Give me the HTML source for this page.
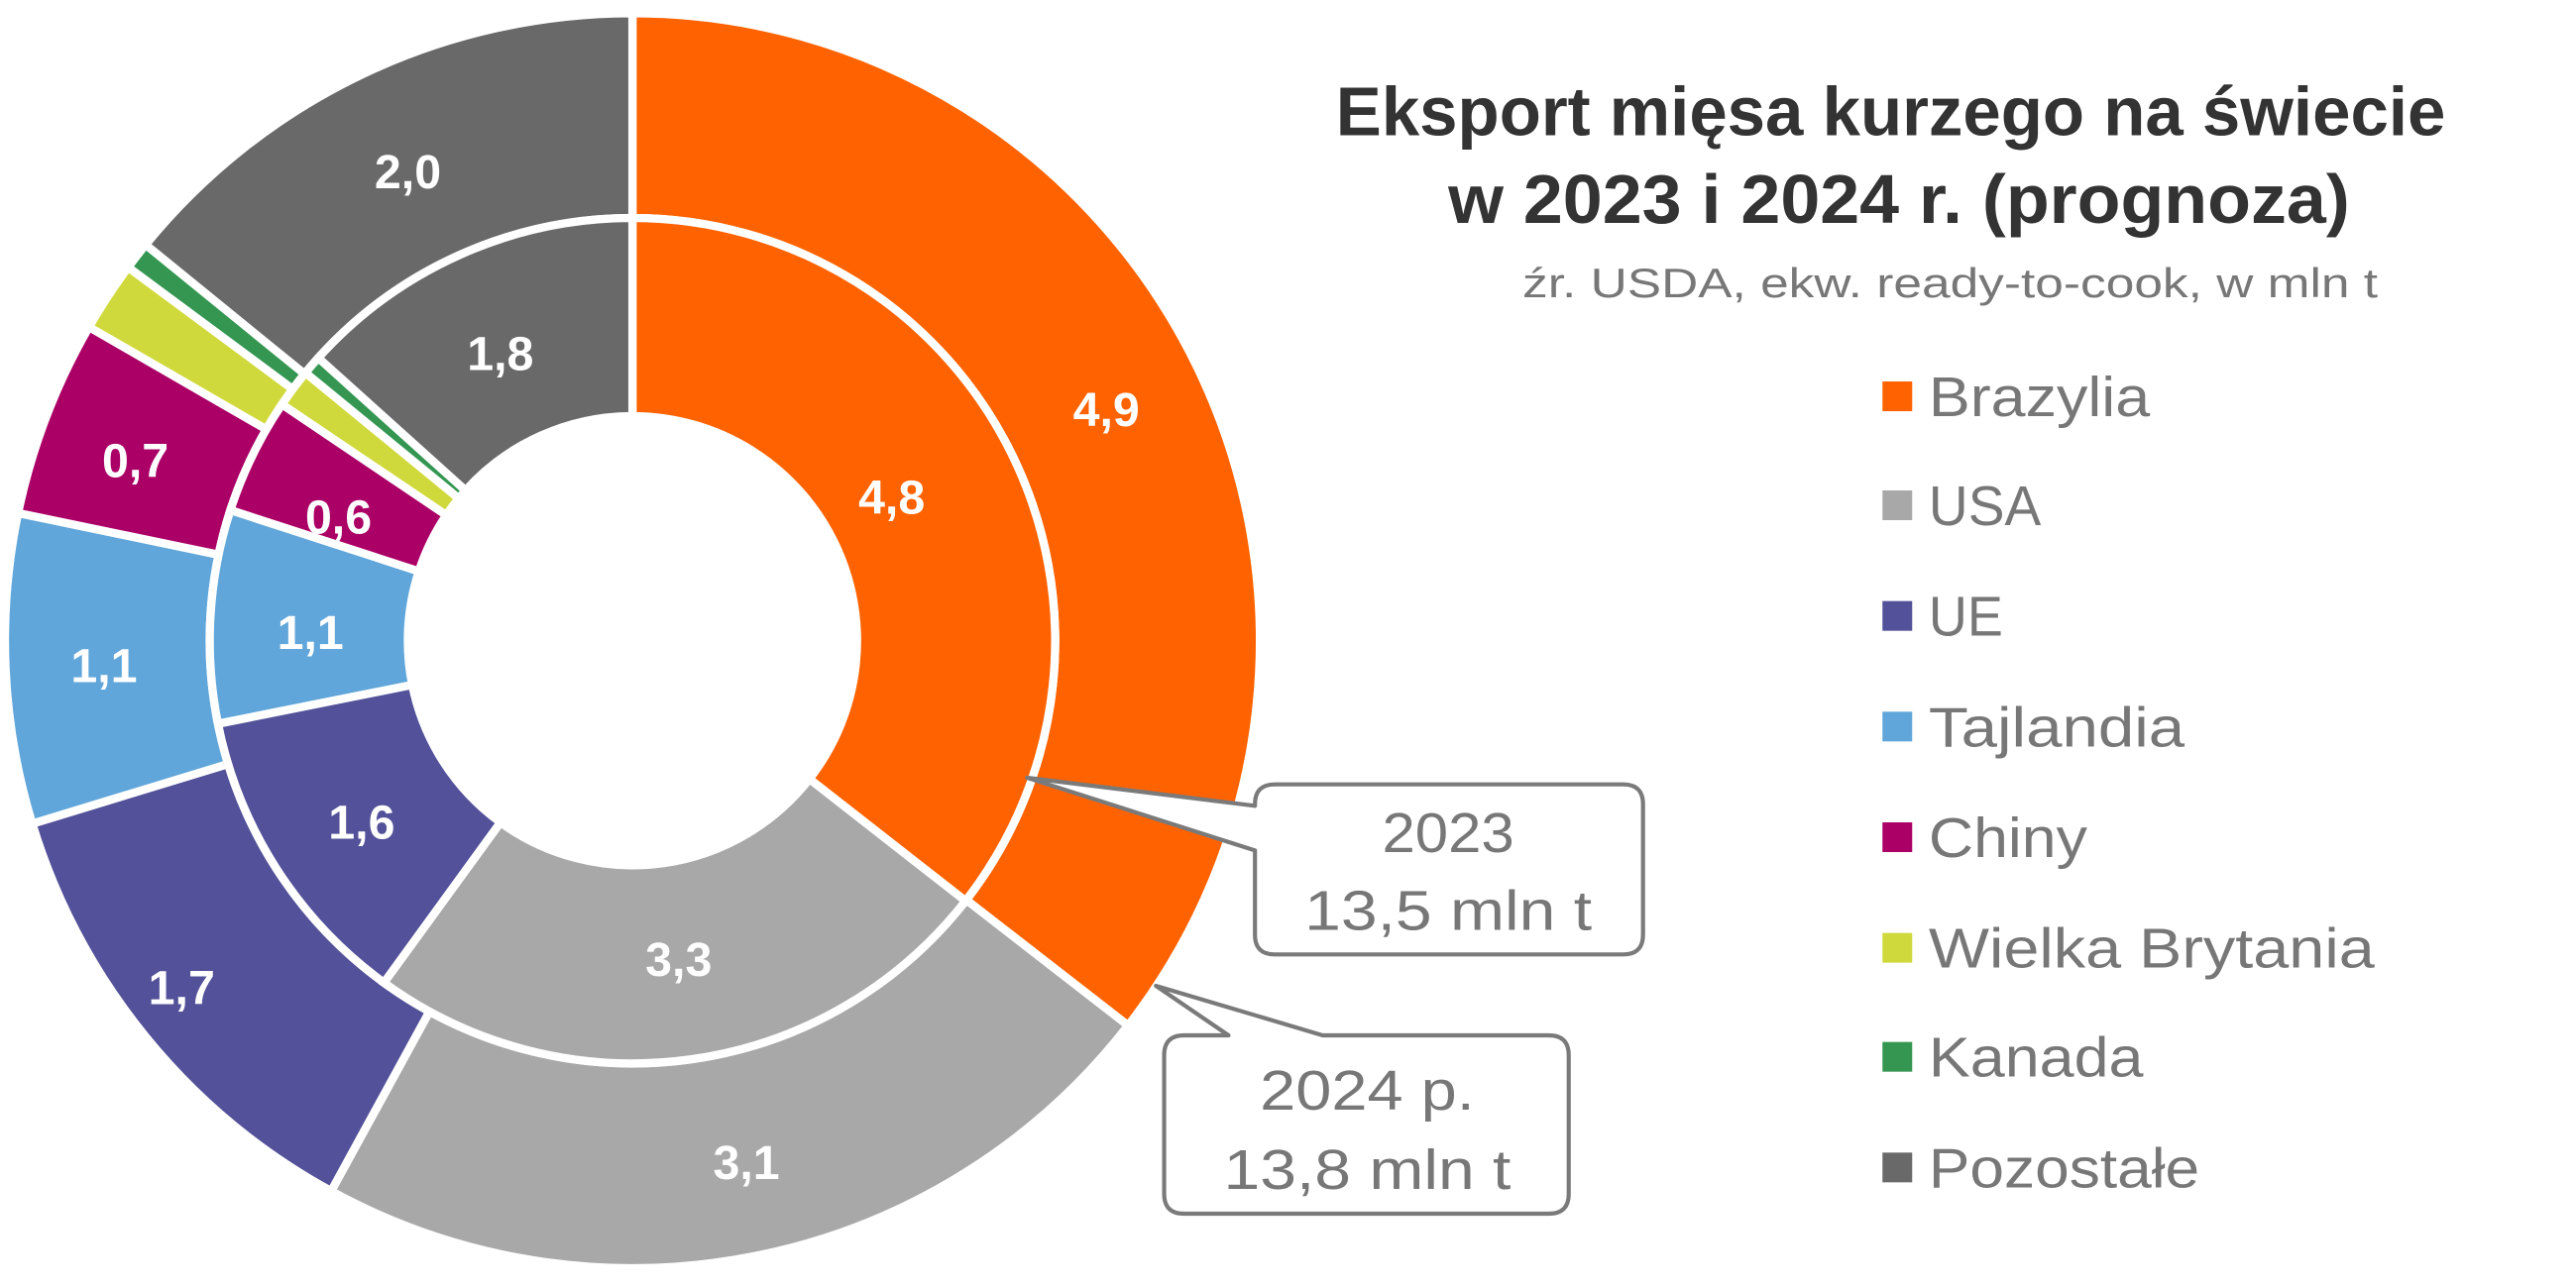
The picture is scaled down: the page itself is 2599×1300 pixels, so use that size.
<!DOCTYPE html>
<html><head><meta charset="utf-8"><style>
html,body{margin:0;padding:0;background:#fff;}
svg{display:block;}
text{font-family:"Liberation Sans",sans-serif;}
</style></head><body>
<svg id="s" width="2599" height="1300" viewBox="0 0 1560 780" preserveAspectRatio="none" xmlns="http://www.w3.org/2000/svg">
<g id="donut"></g>
<g font-weight="bold" fill="#fff" font-size="29" text-anchor="middle">
<text x="670" y="258">4,9</text>
<text x="540" y="311">4,8</text>
<text x="411" y="591">3,3</text>
<text x="452" y="714">3,1</text>
<text x="219" y="508">1,6</text>
<text x="110" y="608">1,7</text>
<text x="188" y="393">1,1</text>
<text x="63" y="413">1,1</text>
<text x="205" y="323">0,6</text>
<text x="82" y="289">0,7</text>
<text x="303" y="224">1,8</text>
<text x="247" y="114">2,0</text>
</g>
<g fill="#333" font-weight="bold" font-size="42" text-anchor="middle">
<text x="1145" y="82" textLength="672" lengthAdjust="spacingAndGlyphs">Eksport mięsa kurzego na świecie</text>
<text x="1150" y="135" textLength="546" lengthAdjust="spacingAndGlyphs">w 2023 i 2024 r. (prognoza)</text>
</g>
<text x="1181" y="180" fill="#777" font-size="25" text-anchor="middle" textLength="518" lengthAdjust="spacingAndGlyphs">źr. USDA, ekw. ready-to-cook, w mln t</text>
<g font-size="34" fill="#777">
<rect x="1140" y="231" width="18" height="18" fill="#FF6200"/><text x="1168" y="252" textLength="134" lengthAdjust="spacingAndGlyphs">Brazylia</text>
<rect x="1140" y="297" width="18" height="18" fill="#A8A8A8"/><text x="1168" y="318" textLength="68" lengthAdjust="spacingAndGlyphs">USA</text>
<rect x="1140" y="364" width="18" height="18" fill="#525199"/><text x="1168" y="385" textLength="45" lengthAdjust="spacingAndGlyphs">UE</text>
<rect x="1140" y="431" width="18" height="18" fill="#60A6DA"/><text x="1168" y="452" textLength="155" lengthAdjust="spacingAndGlyphs">Tajlandia</text>
<rect x="1140" y="498" width="18" height="18" fill="#AB0066"/><text x="1168" y="519" textLength="96" lengthAdjust="spacingAndGlyphs">Chiny</text>
<rect x="1140" y="565" width="18" height="18" fill="#D0D93C"/><text x="1168" y="586" textLength="270" lengthAdjust="spacingAndGlyphs">Wielka Brytania</text>
<rect x="1140" y="631" width="18" height="18" fill="#349651"/><text x="1168" y="652" textLength="130" lengthAdjust="spacingAndGlyphs">Kanada</text>
<rect x="1140" y="698" width="18" height="18" fill="#696969"/><text x="1168" y="719" textLength="164" lengthAdjust="spacingAndGlyphs">Pozostałe</text>
</g>
<g fill="#fff" stroke="#7a7a7a" stroke-width="2.5" stroke-linejoin="round">
<path d="M772,475 H983 Q995,475 995,487 V566 Q995,578 983,578 H772 Q760,578 760,566 V515 L622,471 L760,488 V487 Q760,475 772,475 Z"/>
<path d="M717,627 H744 L700,597 L801,627 H938 Q950,627 950,639 V723 Q950,735 938,735 H717 Q705,735 705,723 V639 Q705,627 717,627 Z"/>
</g>
<g fill="#777" font-size="34" text-anchor="middle">
<text x="877" y="516" textLength="80" lengthAdjust="spacingAndGlyphs">2023</text>
<text x="877" y="563" textLength="174" lengthAdjust="spacingAndGlyphs">13,5 mln t</text>
<text x="828" y="672" textLength="130" lengthAdjust="spacingAndGlyphs">2024 p.</text>
<text x="828" y="720" textLength="174" lengthAdjust="spacingAndGlyphs">13,8 mln t</text>
</g>
</svg>
<script>
(function(){
var cx=383,cy=388,Ro=378,Rm=256,Rh=136;
var cols=["#FF6200","#A8A8A8","#525199","#60A6DA","#AB0066","#D0D93C","#349651","#696969"];
var outer=[4.9,3.1,1.7,1.1,0.7,0.25,0.1,1.95];
var inner=[4.8,3.3,1.6,1.1,0.6,0.2,0.1,1.8];
var g=document.getElementById("donut"),ns="http://www.w3.org/2000/svg";
function pt(r,a){return [cx+r*Math.sin(a),cy-r*Math.cos(a)];}
function ring(vals,r0,r1){
 var tot=vals.reduce(function(a,b){return a+b;},0),a=0;
 vals.forEach(function(v,i){
  var a2=a+v/tot*2*Math.PI,large=(a2-a)>Math.PI?1:0;
  var p1=pt(r1,a),p2=pt(r1,a2),p3=pt(r0,a2),p4=pt(r0,a);
  var d="M"+p1+" A"+r1+","+r1+" 0 "+large+" 1 "+p2+" L"+p3+" A"+r0+","+r0+" 0 "+large+" 0 "+p4+" Z";
  var p=document.createElementNS(ns,"path");
  p.setAttribute("d",d);p.setAttribute("fill",cols[i]);p.setAttribute("stroke","#fff");
  p.setAttribute("stroke-width","5");p.setAttribute("stroke-linejoin","miter");
  g.appendChild(p);a=a2;});
}
ring(outer,Rm,Ro+2);
ring(inner,Rh,Rm);
})();
</script>
</body></html>
